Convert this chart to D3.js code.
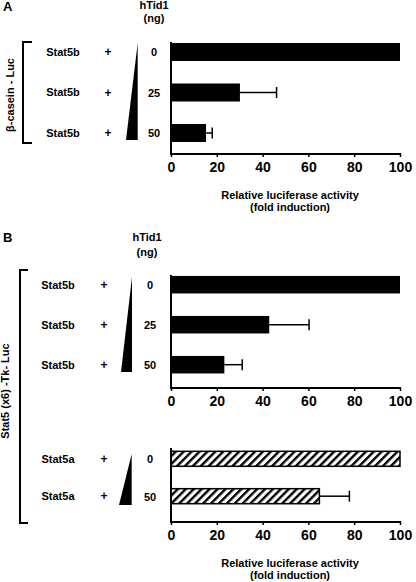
<!DOCTYPE html>
<html><head><meta charset="utf-8">
<script src="https://cdn.jsdelivr.net/npm/d3@7"></script>
<style>
html,body{margin:0;padding:0;background:#fff;}
text{font-family:"Liberation Sans",Arial,Helvetica,sans-serif;font-weight:bold;fill:#000;}
</style></head>
<body><svg id="c" width="416" height="582"></svg>
<script>
// ---- data ----
const axisTicks = [0, 20, 40, 60, 80, 100];
const doseTitle = ["hTid1", "(ng)"];
const axisTitle = ["Relative luciferase activity", "(fold induction)"];

const aReporter = "β-casein - Luc";
const aLabels = ["Stat5b", "Stat5b", "Stat5b"];
const aDoses = ["0", "25", "50"];
const aValues = [100, 30.1, 15.3];
const aErrors = [0, 16, 2.7];

const bReporter = "Stat5 (x6) -Tk- Luc";
const b1Labels = ["Stat5b", "Stat5b", "Stat5b"];
const b1Doses = ["0", "25", "50"];
const b1Values = [100, 42.9, 23.3];
const b1Errors = [0, 17.4, 7.8];

const b2Labels = ["Stat5a", "Stat5a"];
const b2Doses = ["0", "50"];
const b2Values = [100, 64.8];
const b2Errors = [0, 13.1];

// ---- drawing ----
const svg = d3.select("#c");
const defs = svg.append("defs");
const pat = defs.append("pattern").attr("id","hatch").attr("patternUnits","userSpaceOnUse")
  .attr("width",5.6).attr("height",6).attr("patternTransform","rotate(45)");
pat.append("rect").attr("width",5.6).attr("height",6).attr("fill","#fff");
pat.append("rect").attr("x",0).attr("y",0).attr("width",2.4).attr("height",6).attr("fill","#000");

const x = d3.scaleLinear().domain([0,100]).range([171,400]);

function barPanel(o){
  const y = d3.scalePoint().domain(d3.range(o.values.length)).range(o.centers);
  const g = svg.append("g");
  // bars
  g.selectAll("rect.bar").data(o.values).join("rect")
    .attr("x", x(0)).attr("y", (d,i)=>y(i)-o.bh/2)
    .attr("width", d=>x(d)-x(0)).attr("height", o.bh)
    .attr("fill", o.hatch ? "url(#hatch)" : "#000")
    .attr("stroke", o.hatch ? "#000" : "none").attr("stroke-width", 1.5);
  // error bars
  o.values.forEach((v,i)=>{
    if(!o.errors[i]) return;
    const e = v + o.errors[i];
    g.append("line").attr("x1",x(v)).attr("x2",x(e)).attr("y1",y(i)).attr("y2",y(i))
      .attr("stroke","#000").attr("stroke-width",1.5);
    g.append("line").attr("x1",x(e)).attr("x2",x(e)).attr("y1",y(i)-5.5).attr("y2",y(i)+5.5)
      .attr("stroke","#000").attr("stroke-width",1.5);
  });
  // axes
  const ax = d3.axisBottom(x).tickValues(axisTicks).tickSize(3).tickPadding(5).tickFormat(d3.format("d"));
  const ag = g.append("g").attr("transform",`translate(0,${o.axisBottom})`).call(ax);
  ag.select(".domain").attr("stroke","#000").attr("stroke-width",2).attr("d",`M${x(0)-1},0H${x(100)+1}`);
  ag.selectAll(".tick line").attr("stroke","#000").attr("stroke-width",1.5);
  ag.selectAll(".tick text").style("font-size","14px").style("font-family","'Liberation Sans',Arial,sans-serif").style("font-weight","bold");
  g.append("line").attr("x1",x(0)).attr("x2",x(0)).attr("y1",o.axisTop).attr("y2",o.axisBottom)
    .attr("stroke","#000").attr("stroke-width",2);
  // left labels
  o.labels.forEach((t,i)=>{
    g.append("text").attr("x",o.labelX).attr("y",y(i)).attr("dy","0.35em").attr("text-anchor","middle")
      .style("font-size","11px").text(t);
    g.append("text").attr("x",o.plusX).attr("y",y(i)).attr("dy","0.35em").attr("text-anchor","middle")
      .style("font-size","12px").text("+");
    g.append("text").attr("x",o.doseX).attr("y",y(i)).attr("dy","0.4em").attr("text-anchor","middle")
      .style("font-size","11px").text(o.doses[i]);
  });
  // triangle
  const t = o.tri;
  g.append("path").attr("d",`M${t[0]},${t[1]}L${t[0]},${t[2]}L${t[3]},${t[2]}Z`).attr("fill","#000");
  if(o.titleY){
    axisTitle.forEach((s,i)=>g.append("text").attr("x",290).attr("y",o.titleY+i*o.titleGap)
      .attr("text-anchor","middle").style("font-size","11px").text(s));
  }
}

// Panel A
svg.append("text").attr("x",3).attr("y",11).style("font-size","13px").text("A");
doseTitle.forEach((s,i)=>svg.append("text").attr("x",154).attr("y",9+i*13).attr("text-anchor","middle").style("font-size","11px").text(s));
barPanel({values:aValues, errors:aErrors, labels:aLabels, doses:aDoses, centers:[52,133], bh:18,
  axisTop:42, axisBottom:154, labelX:63, plusX:108, doseX:154, tri:[137.7,43,140,126],
  titleY:199, titleGap:12});
svg.append("path").attr("d","M32,42H23V143H32").attr("fill","none").attr("stroke","#000").attr("stroke-width",2);
svg.append("text").attr("transform","translate(14,95) rotate(-90)").attr("text-anchor","middle")
  .style("font-size","11px").text(aReporter);

// Panel B
svg.append("text").attr("x",3).attr("y",242).style("font-size","13px").text("B");
doseTitle.forEach((s,i)=>svg.append("text").attr("x",147).attr("y",241+i*15).attr("text-anchor","middle").style("font-size","11px").text(s));
barPanel({values:b1Values, errors:b1Errors, labels:b1Labels, doses:b1Doses, centers:[284.7,364.7], bh:17.5,
  axisTop:275, axisBottom:388, labelX:58, plusX:104, doseX:150, tri:[132,277,372,121]});
barPanel({values:b2Values, errors:b2Errors, labels:b2Labels, doses:b2Doses, centers:[458.8,496.2], bh:15, hatch:true,
  axisTop:448, axisBottom:522, labelX:58, plusX:104, doseX:150, tri:[131.7,454,505,119],
  titleY:567, titleGap:12});
svg.append("path").attr("d","M28,270H20V523H28").attr("fill","none").attr("stroke","#000").attr("stroke-width",2);
svg.append("text").attr("transform","translate(9,391) rotate(-90)").attr("text-anchor","middle")
  .style("font-size","11px").text(bReporter);
</script></body></html>
